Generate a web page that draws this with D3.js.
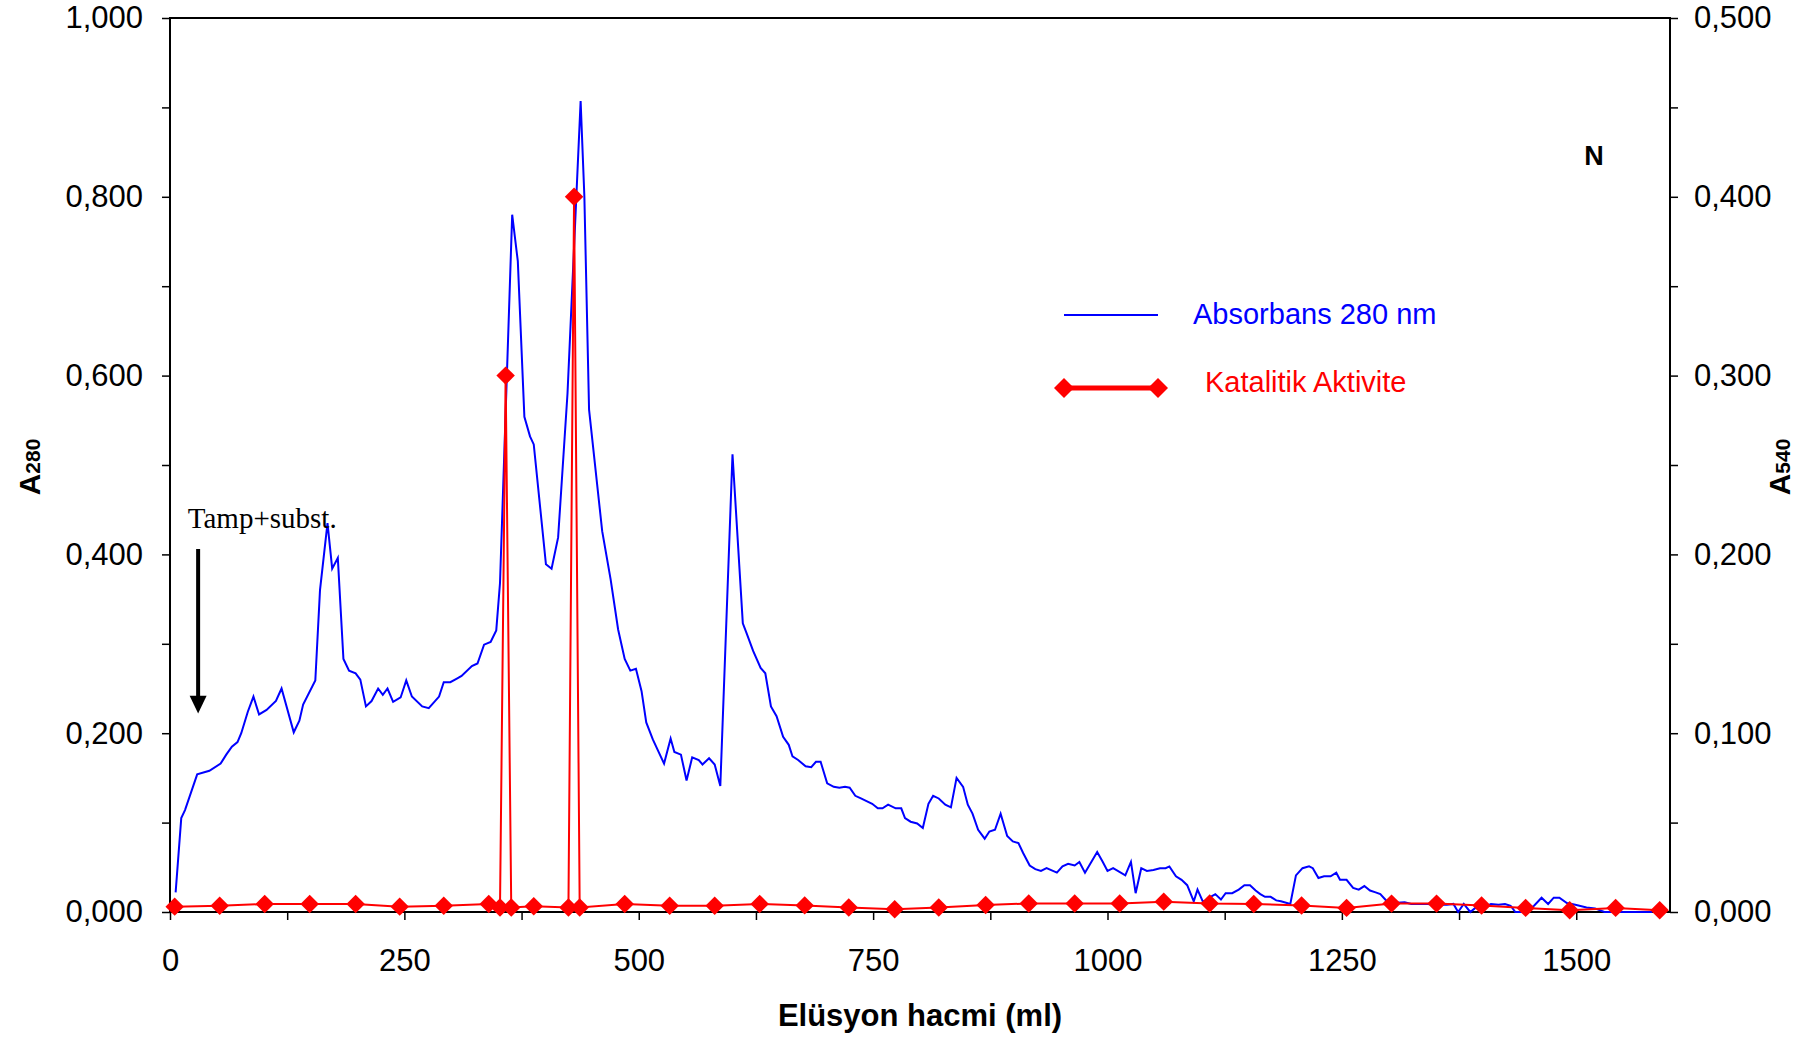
<!DOCTYPE html>
<html>
<head>
<meta charset="utf-8">
<script src="https://cdn.jsdelivr.net/npm/d3@7/dist/d3.min.js"></script>
<style>
    body { margin: 0; background: #fff; }
    text { font-family: "Liberation Sans", Arial, sans-serif; }
</style>
</head>
<body>
<div id="chart"></div>
<script>
// A280 (blue line) - elution volume in ml
var absVolume = [
    6, 12, 16, 29, 42, 54, 60, 66, 72, 76,
    83, 89, 95, 103, 113, 119, 132, 138, 142, 155,
    160, 168, 173, 179, 185, 191, 198, 203, 209, 215,
    222, 227, 232, 238, 246, 252, 258, 269, 276, 287,
    292, 299, 306, 311, 322, 328, 335, 342, 348, 352,
    365, 371, 378, 384, 388, 401, 407, 414, 424, 438,
    442, 447, 461, 470, 478, 485, 491, 497, 503, 508,
    515, 527, 534, 538, 545, 551, 557, 564, 568, 575,
    581, 587, 600, 611, 615, 622, 630, 635, 641, 647,
    654, 660, 664, 670, 678, 684, 689, 694, 701, 708,
    714, 720, 725, 731, 737, 743, 749, 755, 760, 766,
    774, 780, 784, 790, 797, 803, 809, 814, 820, 827,
    833, 839, 846, 851, 856, 862, 869, 874, 880, 886,
    893, 899, 905, 910, 917, 923, 929, 935, 946, 952,
    958, 965, 970, 976, 989, 995, 1000, 1006, 1019, 1025,
    1030, 1036, 1042, 1049, 1056, 1062, 1066, 1073, 1079, 1085,
    1092, 1096, 1102, 1110, 1115, 1121, 1126, 1133, 1140, 1146,
    1152, 1158, 1163, 1168, 1174, 1180, 1185, 1195, 1201, 1208,
    1215, 1219, 1225, 1231, 1238, 1244, 1248, 1255, 1262, 1268,
    1274, 1280, 1286, 1291, 1298, 1305, 1317, 1324, 1341, 1351,
    1362, 1369, 1374, 1380, 1387, 1394, 1401, 1409, 1417, 1424,
    1430, 1435, 1444, 1455, 1463, 1470, 1476, 1482, 1490, 1499,
    1511, 1520, 1530, 1581
];
var absValues = [
    .022, .105, .114, .154, .158, .166, .176, .185, .190, .200,
    .224, .241, .221, .226, .236, .250, .201, .214, .232, .259,
    .360, .435, .384, .396, .283, .270, .267, .260, .230, .236,
    .250, .243, .250, .235, .240, .259, .241, .230, .228, .241,
    .257, .257, .261, .264, .275, .278, .299, .302, .315, .368,
    .780, .728, .554, .532, .523, .389, .384, .419, .580, .907,
    .800, .562, .426, .372, .316, .283, .270, .272, .247, .212,
    .193, .166, .194, .179, .176, .147, .173, .170, .165, .172,
    .165, .141, .512, .323, .312, .292, .273, .267, .230, .219,
    .196, .187, .174, .170, .163, .162, .168, .168, .144, .140,
    .139, .140, .139, .130, .127, .124, .121, .116, .116, .120,
    .116, .116, .105, .101, .099, .094, .121, .130, .127, .120,
    .117, .150, .140, .120, .110, .092, .082, .090, .092, .110,
    .085, .079, .077, .066, .052, .048, .046, .049, .044, .051,
    .054, .052, .056, .044, .067, .056, .046, .049, .041, .056,
    .021, .049, .046, .047, .049, .049, .051, .040, .036, .030,
    .012, .025, .011, .017, .020, .014, .021, .021, .025, .030,
    .030, .024, .020, .017, .017, .013, .012, .009, .041, .049,
    .051, .049, .038, .040, .040, .044, .036, .036, .027, .025,
    .029, .024, .022, .020, .012, .010, .011, .009, .009, .008,
    .008, .009, .000, .009, .000, .006, .005, .009, .008, .009,
    .007, .000, .000, .007, .016, .009, .016, .016, .010, .008,
    .005, .004, .000, .000
];

// A540 (red line with diamonds)
var actVolume = [5, 53, 101, 149, 198, 245, 292, 340, 352, 358,
    364, 388, 425, 431, 437, 485, 533, 581, 629, 677,
    724, 773, 820, 870, 916, 965, 1013, 1060, 1109, 1156,
    1207, 1255, 1303, 1351, 1399, 1446, 1493, 1542, 1589];
var actValues = [.003, .0035, .0045, .0045, .0045, .003, .0035, .0045, .0025, .300,
    .0025, .0032, .0025, .400, .0025, .0045, .0035, .0035, .0045, .0037,
    .0025, .0015, .0025, .0039, .0048, .0048, .0048, .0058, .0048, .0045,
    .0036, .0023, .0047, .0047, .0036, .0023, .0010, .0023, .0010];

var xTicks = d3.range(0, 1501, 125);
var yLeftTicks = d3.range(0, 11).map(function (i) { return i / 10; });
var yRightTicks = d3.range(0, 11).map(function (i) { return i / 20; });

var seriesNames = ["Absorbans 280 nm", "Katalitik Aktivite"];

var width = 1811;
var height = 1038;
var plotLeft = 170, plotRight = 1670, plotTop = 18, plotBottom = 912;

var blue = "#0000ff";
var red = "#ff0000";

var x = d3.scaleLinear().domain([0, 1600]).range([plotLeft, plotRight]);
var yL = d3.scaleLinear().domain([0, 1]).range([plotBottom, plotTop]);
var yR = d3.scaleLinear().domain([0, 0.5]).range([plotBottom, plotTop]);

var fmt = function (v) { return d3.format(".3f")(v).replace(".", ","); };

var svg = d3.select("#chart")
    .append("svg")
    .attr("width", width)
    .attr("height", height);

// axes
svg.append("g")
    .attr("transform", "translate(0," + plotBottom + ")")
    .call(d3.axisBottom(x).tickValues(xTicks).tickSize(8).tickPadding(29)
        .tickFormat(function (d) { return d % 250 === 0 ? d : ""; }));

svg.append("g")
    .attr("transform", "translate(" + plotLeft + ",0)")
    .call(d3.axisLeft(yL).tickValues(yLeftTicks).tickSize(8).tickPadding(19)
        .tickFormat(function (d, i) { return i % 2 === 0 ? fmt(d) : ""; }));

svg.append("g")
    .attr("transform", "translate(" + plotRight + ",0)")
    .call(d3.axisRight(yR).tickValues(yRightTicks).tickSize(8).tickPadding(16)
        .tickFormat(function (d, i) { return i % 2 === 0 ? fmt(d) : ""; }));

svg.selectAll(".domain").remove();
svg.selectAll(".tick line").attr("stroke", "#000").attr("stroke-width", 1.5);
svg.selectAll(".tick text")
    .style("font-family", "'Liberation Sans', Arial, sans-serif")
    .style("font-size", "31px")
    .attr("fill", "#000");

// frame
svg.append("rect")
    .attr("x", plotLeft)
    .attr("y", plotTop)
    .attr("width", plotRight - plotLeft)
    .attr("height", plotBottom - plotTop)
    .attr("fill", "none")
    .attr("stroke", "#000")
    .attr("stroke-width", 2);

// blue line
var absData = absVolume.map(function (v, i) { return [v, absValues[i]]; });
svg.append("path")
    .datum(absData)
    .attr("fill", "none")
    .attr("stroke", blue)
    .attr("stroke-width", 2)
    .attr("d", d3.line()
        .x(function (d) { return x(d[0]); })
        .y(function (d) { return yL(d[1]); }));

// red line + diamonds
var actData = actVolume.map(function (v, i) { return [v, actValues[i]]; });
svg.append("path")
    .datum(actData)
    .attr("fill", "none")
    .attr("stroke", red)
    .attr("stroke-width", 2)
    .attr("d", d3.line()
        .x(function (d) { return x(d[0]); })
        .y(function (d) { return yR(d[1]); }));

var diamond = d3.symbol().type(d3.symbolSquare).size(170);

svg.selectAll(".marker")
    .data(actData)
    .enter()
    .append("path")
    .attr("class", "marker")
    .attr("d", diamond)
    .attr("fill", red)
    .attr("transform", function (d) {
        return "translate(" + x(d[0]) + "," + yR(d[1]) + ") rotate(45)";
    });

// axis titles
svg.append("text")
    .attr("x", (plotLeft + plotRight) / 2)
    .attr("y", 1026)
    .attr("text-anchor", "middle")
    .style("font-weight", "bold")
    .style("font-size", "31px")
    .text("Elüsyon hacmi (ml)");

function sideTitle(xPos, sub) {
    var t = svg.append("text")
        .attr("transform", "translate(" + xPos + "," + ((plotTop + plotBottom) / 2 + 2) + ") rotate(-90)")
        .attr("text-anchor", "middle")
        .style("font-weight", "bold");
    t.append("tspan").style("font-size", "30px").text("A");
    t.append("tspan").style("font-size", "21px").text(sub);
}
sideTitle(40, "280");
sideTitle(1790, "540");

// annotation
svg.append("text")
    .attr("x", x(19))
    .attr("y", yL(0.43))
    .style("font-family", "'Liberation Serif', 'Times New Roman', serif")
    .style("font-size", "29px")
    .text("Tamp+subst.");

var ax = x(30);
svg.append("line")
    .attr("x1", ax).attr("x2", ax)
    .attr("y1", yL(0.406)).attr("y2", yL(0.24))
    .attr("stroke", "#000")
    .attr("stroke-width", 4);
svg.append("path")
    .attr("d", "M" + (ax - 8.5) + "," + yL(0.242) + "L" + (ax + 8.5) + "," + yL(0.242) + "L" + ax + "," + yL(0.222) + "Z")
    .attr("fill", "#000");

svg.append("text")
    .attr("x", 1594)
    .attr("y", 165)
    .attr("text-anchor", "middle")
    .style("font-weight", "bold")
    .style("font-size", "27px")
    .text("N");

// legend
var legend = svg.append("g");
legend.append("line")
    .attr("x1", 1064).attr("x2", 1158)
    .attr("y1", 315).attr("y2", 315)
    .attr("stroke", blue)
    .attr("stroke-width", 2);
legend.append("text")
    .attr("x", 1193)
    .attr("y", 324)
    .attr("fill", blue)
    .style("font-size", "29px")
    .text(seriesNames[0]);

legend.append("line")
    .attr("x1", 1064).attr("x2", 1158)
    .attr("y1", 388).attr("y2", 388)
    .attr("stroke", red)
    .attr("stroke-width", 5);
legend.selectAll(".lm")
    .data([1064, 1158])
    .enter()
    .append("path")
    .attr("d", d3.symbol().type(d3.symbolSquare).size(200))
    .attr("fill", red)
    .attr("transform", function (d) { return "translate(" + d + ",388) rotate(45)"; });
legend.append("text")
    .attr("x", 1205)
    .attr("y", 392)
    .attr("fill", red)
    .style("font-size", "29px")
    .text(seriesNames[1]);
</script>
</body>
</html>
